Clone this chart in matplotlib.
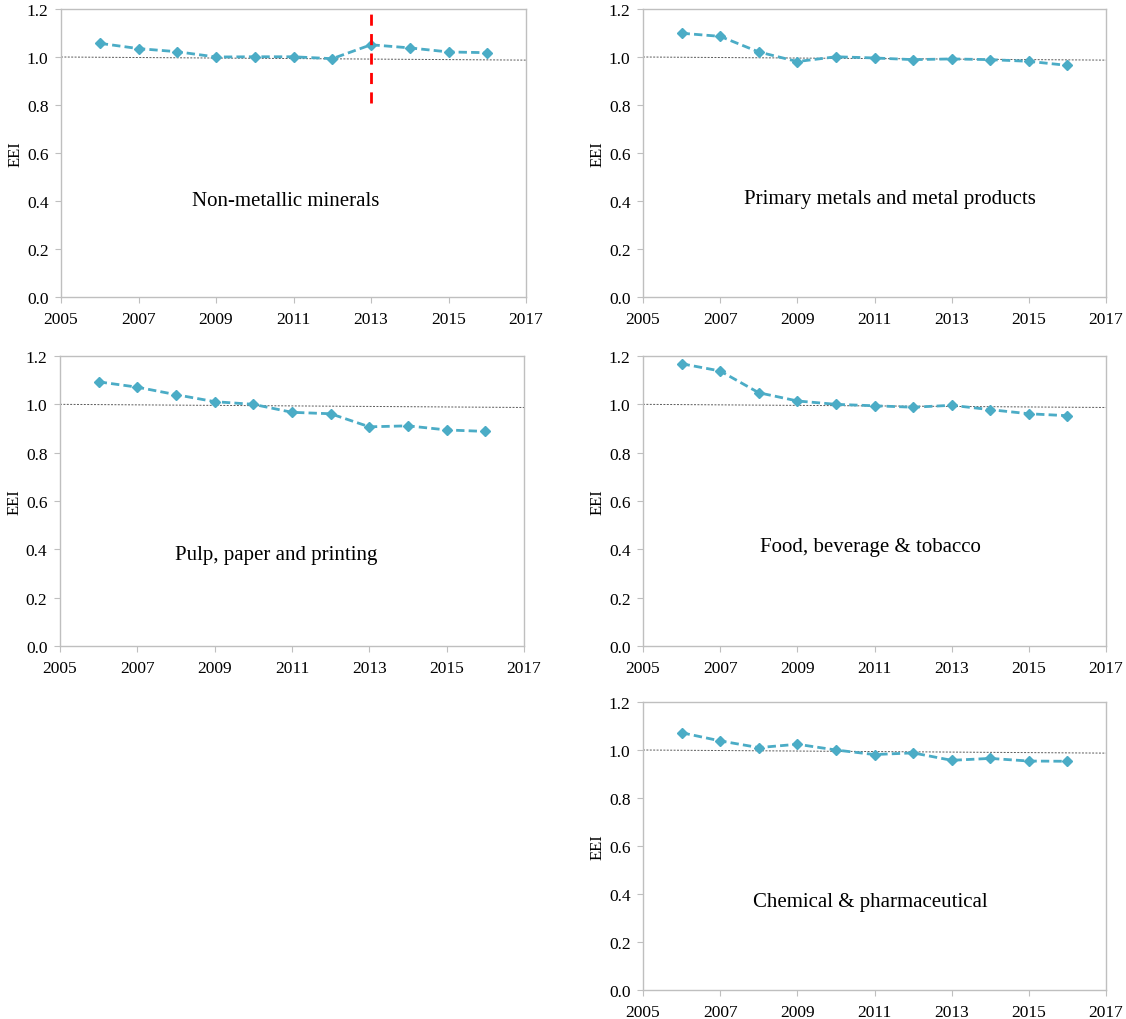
import numpy as np
import matplotlib
matplotlib.use("Agg")
import matplotlib.pyplot as plt

# ===================== 配置 =====================
plt.rcParams['font.family'] = ['Liberation Serif', 'DejaVu Serif']
plt.rcParams['font.size'] = 12.5

# ===================== 数据 =====================
years = [2006, 2007, 2008, 2009, 2010, 2011, 2012, 2013, 2014, 2015, 2016]

non_metallic = [1.057, 1.035, 1.022, 1.000, 1.001, 1.001, 0.993, 1.051, 1.038, 1.021, 1.018]
primary_metals = [1.099, 1.086, 1.021, 0.981, 1.001, 0.996, 0.989, 0.992, 0.989, 0.982, 0.965]
pulp_paper = [1.093, 1.071, 1.040, 1.011, 1.000, 0.967, 0.961, 0.907, 0.911, 0.894, 0.888]
food_bev = [1.168, 1.138, 1.048, 1.014, 1.000, 0.994, 0.988, 0.996, 0.978, 0.961, 0.953]
chemical = [1.072, 1.038, 1.010, 1.024, 1.000, 0.981, 0.988, 0.957, 0.965, 0.954, 0.953]

titles = ["Non-metallic minerals", "Primary metals and metal products",
          "Pulp, paper and printing", "Food, beverage & tobacco",
          "Chemical & pharmaceutical"]

# 参考线 (2005 -> 2017)
ref_x = [2005, 2017]
ref_y = [1.000, 0.987]

# 红色虚线 (2013)
break_year = 2013
break_range = [0.81, 1.2]

# ===================== 绘图 =====================
fig = plt.figure(figsize=(11.26, 10.20), dpi=100)

W, H = 1126, 1020
# (left, top, right, bottom) in pixels
boxes = [
    (61, 10, 526, 298),
    (643, 10, 1106, 298),
    (60, 357, 524, 647),
    (643, 357, 1106, 647),
    (643, 703, 1106, 991),
]
series = [non_metallic, primary_metals, pulp_paper, food_bev, chemical]
text_pos = [(2010.8, 0.40), (2011.4, 0.41), (2010.6, 0.38), (2010.9, 0.41), (2010.9, 0.37)]

line_color = "#4BACC6"
spine_color = "#BFBFBF"

for i, (box, vals, title, tp) in enumerate(zip(boxes, series, titles, text_pos)):
    l, t, r, b = box
    ax = fig.add_axes([l / W, 1 - b / H, (r - l) / W, (b - t) / H])

    ax.plot(ref_x, ref_y, color="#595959", linestyle=(0, (2, 1.5)), linewidth=0.7,
            zorder=1, clip_on=False)
    ax.plot(years, vals, color=line_color, linestyle=(0, (3, 1.5)), linewidth=2,
            marker="D", markersize=5.5, zorder=3)

    if i == 0:
        ax.plot([break_year, break_year], break_range, color="#FF0000",
                linestyle=(0, (4, 3)), linewidth=2, zorder=4)

    ax.text(tp[0], tp[1], title, ha="center", va="center", fontsize=15)

    ax.set_xlim(2005, 2017)
    ax.set_ylim(0, 1.2)
    ax.set_xticks(np.arange(2005, 2018, 2))
    ax.set_yticks(np.arange(0, 1.21, 0.2))
    ax.set_yticklabels([f"{v:.1f}" for v in np.arange(0, 1.21, 0.2)])
    ax.set_ylabel("EEI", labelpad=2, fontsize=12)

    for s in ax.spines.values():
        s.set_color(spine_color)
        s.set_linewidth(1)
    ax.tick_params(axis="both", direction="out", length=4, color=spine_color)
    ax.tick_params(axis="x", pad=6)
    ax.tick_params(axis="y", pad=5)

plt.savefig("out.png", dpi=100)
